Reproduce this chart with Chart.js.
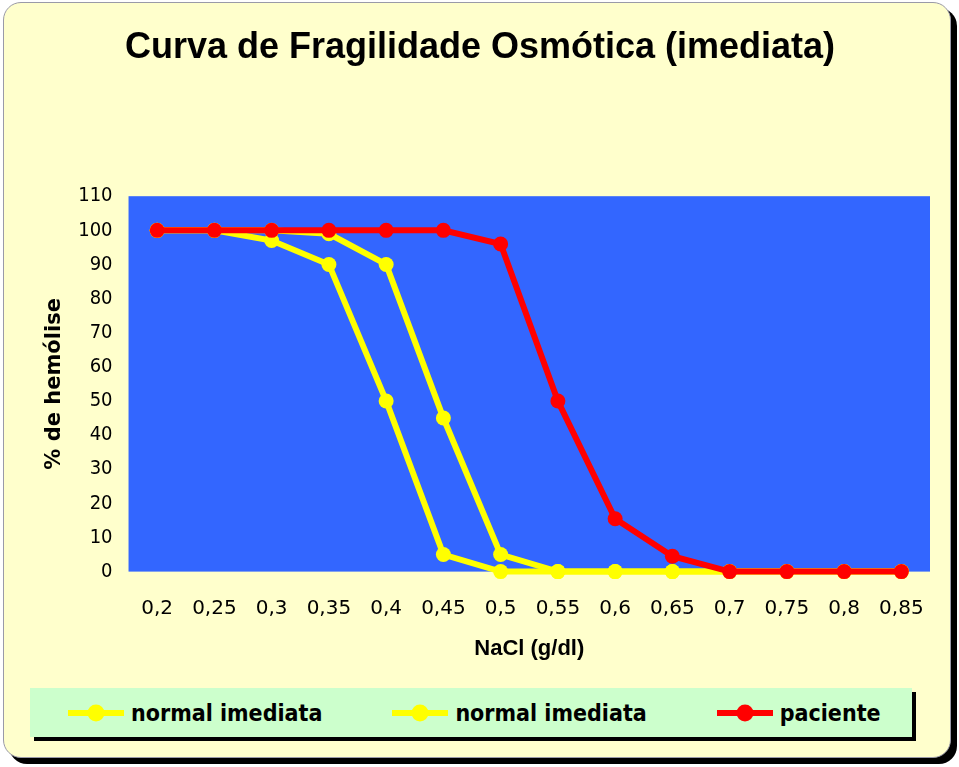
<!DOCTYPE html>
<html>
<head>
<meta charset="utf-8">
<script src="https://cdn.jsdelivr.net/npm/chart.js@4/dist/chart.umd.min.js"></script>
<style>
    body { margin: 0; background: #fff; }
    #frame {
        position: absolute; left: 3px; top: 2px; width: 946px; height: 754px;
        background: #ffffcc; border: 1px solid #9a9aa8; border-radius: 18px;
        box-shadow: 6px 6px 0 #000;
    }
    #wrap { position: absolute; left: 0; top: 0; width: 959px; height: 662px; }
    #legend {
        position: absolute; left: 30px; top: 688px; width: 882px; height: 49px;
        background: #ccffcc; box-shadow: 4px 4px 0 #000;
        display: flex; align-items: center; padding-left: 38px; box-sizing: border-box;
        font: bold 23px "DejaVu Sans Condensed", "DejaVu Sans", sans-serif;
        white-space: nowrap;
    }
    .item { display: flex; align-items: center; margin-right: 70px; flex-shrink: 0; }
    .item canvas { margin-right: 7px; }
</style>
</head>
<body>
<div id="frame"></div>
<div id="wrap"><canvas id="fragChart"></canvas></div>
<div id="legend"></div>
<script>
const naclLabels = ['0,2', '0,25', '0,3', '0,35', '0,4', '0,45', '0,5', '0,55', '0,6', '0,65', '0,7', '0,75', '0,8', '0,85'];
const normal1 = [100, 100, 97, 90, 50, 5, 0, 0, 0, 0, 0, 0, 0, 0];
const normal2 = [100, 100, 100, 99, 90, 45, 5, 0, 0, 0, 0, 0, 0, 0];
const paciente = [100, 100, 100, 100, 100, 100, 96, 50, 15.5, 4.5, 0, 0, 0, 0];
const seriesNames = ['normal imediata', 'normal imediata', 'paciente'];

// fill the plot area blue
const plotBg = {
    id: 'plotBg',
    beforeDraw(chart) {
        const a = chart.chartArea;
        const ctx = chart.ctx;
        ctx.save();
        ctx.fillStyle = '#3366ff';
        ctx.fillRect(a.left, a.top, a.right - a.left, a.bottom - a.top);
        ctx.restore();
    },
};

function makeSeries(label, data, color, order) {
    return {
        label: label,
        data: data,
        borderColor: color,
        backgroundColor: color,
        pointBackgroundColor: color,
        pointBorderColor: color,
        borderWidth: 6,
        pointRadius: 7.5,
        pointBorderWidth: 0,
        tension: 0,
        clip: false,
        order: order,
    };
}

const chart = new Chart('fragChart', {
    type: 'line',
    data: {
        labels: naclLabels,
        datasets: [
            makeSeries(seriesNames[0], normal1, '#ffff00', 2),
            makeSeries(seriesNames[1], normal2, '#ffff00', 1),
            makeSeries(seriesNames[2], paciente, '#ff0000', 0),
        ],
    },
    options: {
        responsive: true,
        maintainAspectRatio: false,
        animation: false,
        layout: { padding: { left: 30, right: 29, top: 0, bottom: 0 } },
        plugins: {
            legend: { display: false },
            tooltip: { enabled: false },
            title: {
                display: true,
                text: 'Curva de Fragilidade Osmótica (imediata)',
                color: '#000',
                font: { family: '"Liberation Sans", Arial, sans-serif', size: 36, weight: 'bold' },
                padding: { top: 26, bottom: 127 },
            },
        },
        scales: {
            x: {
                offset: true,
                grid: { display: false, drawTicks: false },
                border: { display: false },
                ticks: {
                    color: '#000',
                    padding: 25,
                    maxRotation: 0,
                    autoSkip: false,
                    font: { family: '"DejaVu Sans", sans-serif', size: 20 },
                },
                title: {
                    display: true,
                    text: 'NaCl (g/dl)',
                    color: '#000',
                    font: { family: '"Liberation Sans", Arial, sans-serif', size: 22, weight: 'bold' },
                    padding: { top: -10, bottom: 0 },
                },
            },
            y: {
                min: 0,
                max: 110,
                grid: { display: false, drawTicks: false },
                border: { display: false },
                ticks: {
                    stepSize: 10,
                    color: '#000',
                    padding: 16,
                    font: { family: '"DejaVu Sans Condensed", "DejaVu Sans", sans-serif', size: 20 },
                },
                title: {
                    display: true,
                    text: '% de hemólise',
                    color: '#000',
                    font: { family: '"DejaVu Sans", sans-serif', size: 21, weight: 'bold' },
                    padding: { top: 12, bottom: -5 },
                },
            },
        },
    },
    plugins: [plotBg],
});

// html legend built from the datasets
const legend = document.getElementById('legend');
chart.data.datasets.forEach((ds) => {
    const item = document.createElement('div');
    item.className = 'item';
    const sym = document.createElement('canvas');
    sym.width = 56;
    sym.height = 20;
    const c = sym.getContext('2d');
    c.strokeStyle = ds.borderColor;
    c.lineWidth = 6;
    c.beginPath();
    c.moveTo(0, 10);
    c.lineTo(56, 10);
    c.stroke();
    c.fillStyle = ds.borderColor;
    c.beginPath();
    c.arc(28, 10, 8.5, 0, Math.PI * 2);
    c.fill();
    const txt = document.createElement('span');
    txt.textContent = ds.label;
    item.appendChild(sym);
    item.appendChild(txt);
    legend.appendChild(item);
});
</script>
</body>
</html>
